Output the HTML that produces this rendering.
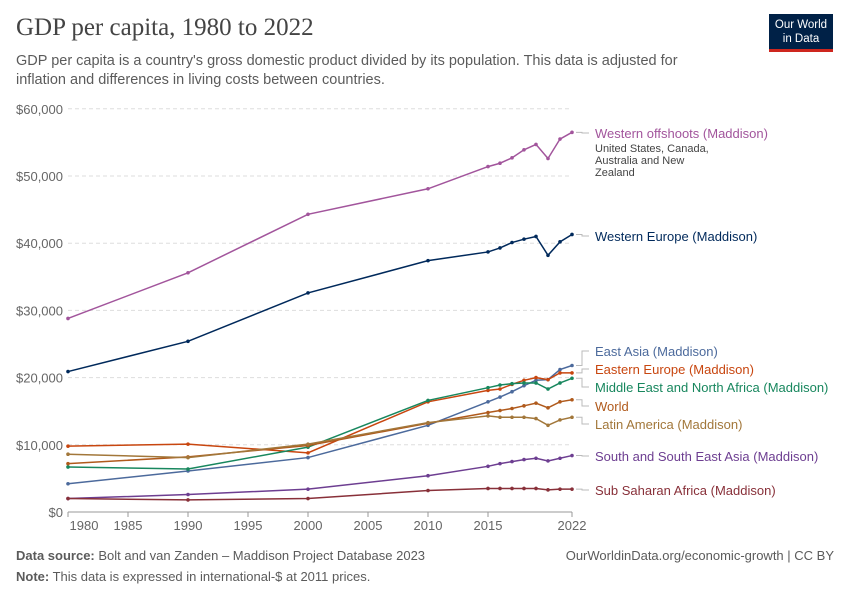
<!DOCTYPE html>
<html><head><meta charset="utf-8">
<style>
body{margin:0;background:#fff;font-family:"Liberation Sans",sans-serif;}
#wrap{position:relative;width:850px;height:600px;overflow:hidden;}
.t{position:absolute;white-space:nowrap;}
</style></head><body>
<div id="wrap">
<div class="t" style="left:16px;top:14px;font-family:'Liberation Serif',serif;font-size:25px;color:#444;">GDP per capita, 1980 to 2022</div>
<div class="t" style="left:16px;top:52px;font-size:14.5px;line-height:19px;color:#5b5b5b;white-space:normal;width:690px;">GDP per capita is a country's gross domestic product divided by its population. This data is adjusted for inflation and differences in living costs between countries.</div>
<div style="position:absolute;left:769px;top:14px;width:64px;height:38px;background:#002147;border-bottom:3px solid #ce261e;color:#fff;font-size:11.5px;line-height:14px;text-align:center;padding-top:4px;box-sizing:border-box;">Our World<br>in Data</div>
<svg id="chart" width="850" height="600" style="position:absolute;left:0;top:0"></svg>
<div class="t" style="left:16px;top:548px;font-size:13px;color:#5b5b5b;"><b>Data source:</b> Bolt and van Zanden – Maddison Project Database 2023</div>
<div class="t" style="left:16px;top:569px;font-size:13px;color:#5b5b5b;"><b>Note:</b> This data is expressed in international-$ at 2011 prices.</div>
<div class="t" style="right:16px;top:548px;font-size:13px;color:#5b5b5b;">OurWorldinData.org/economic-growth | CC BY</div>
</div>
<script>
const years=[1980,1990,2000,2010,2015,2016,2017,2018,2019,2020,2021,2022];
const westernOffshoots=[28800,35600,44300,48100,51400,51900,52700,53900,54700,52600,55500,56500];
const westernEurope=[20900,25400,32600,37400,38700,39300,40100,40600,41000,38200,40200,41300];
const eastAsia=[4200,6100,8100,12900,16400,17100,17900,18800,19600,19700,21200,21800];
const easternEurope=[9800,10100,8800,16400,18100,18300,19000,19600,20000,19700,20700,20700];
const mena=[6700,6400,9650,16600,18500,18900,19100,19200,19200,18300,19200,19900];
const world=[7200,8200,9900,13200,14800,15100,15400,15800,16200,15500,16400,16700];
const latinAmerica=[8600,8100,10100,13300,14300,14100,14100,14100,13900,12900,13700,14100];
const southAsia=[2000,2600,3400,5400,6800,7200,7500,7800,8000,7600,8000,8400];
const subSaharan=[2000,1800,2000,3200,3500,3500,3500,3500,3500,3300,3400,3400];
const yTicks=[0,10000,20000,30000,40000,50000,60000];
const yTickLabels=["$0","$10,000","$20,000","$30,000","$40,000","$50,000","$60,000"];
const xTicks=[1980,1985,1990,1995,2000,2005,2010,2015,2022];
const seriesNames=["Western offshoots (Maddison)","Western Europe (Maddison)","East Asia (Maddison)","Eastern Europe (Maddison)","Middle East and North Africa (Maddison)","World","Latin America (Maddison)","South and South East Asia (Maddison)","Sub Saharan Africa (Maddison)"];
const seriesData=[westernOffshoots,westernEurope,eastAsia,easternEurope,mena,world,latinAmerica,southAsia,subSaharan];
const colors=["#a2559c","#00295b","#4c6a9c","#c8460f","#18875e","#b05a1c","#a2773a","#6d3e91","#883039"];
const labelY=[133,236,351,369,387,406,424,456,490];
const ns="http://www.w3.org/2000/svg";
const svg=document.getElementById('chart');
const x=y=>68+(y-1980)*12;
const yv=v=>512-v*6.72/1000;
function mk(tag,attrs){const e=document.createElementNS(ns,tag);for(const k in attrs)e.setAttribute(k,attrs[k]);svg.appendChild(e);return e;}
yTicks.forEach((t,i)=>{
  if(t>0){const g=mk('line',{x1:68,x2:572,y1:yv(t),y2:yv(t),stroke:'#ddd','stroke-dasharray':'4,3'});
  
  }
  const tx=mk('text',{x:63,y:yv(t)+5,'text-anchor':'end','font-size':13,fill:'#666','font-family':'Liberation Sans,sans-serif'});
  tx.textContent=yTickLabels[i];
  
  
});
const ax=mk('line',{x1:68,x2:572,y1:512,y2:512,stroke:'#999'});


xTicks.forEach(t=>{
  mk('line',{x1:x(t),x2:x(t),y1:512,y2:517,stroke:'#999'});
  const tx=mk('text',{x:t===1980?x(t)+16:x(t),y:530,'text-anchor':'middle','font-size':13,fill:'#666','font-family':'Liberation Sans,sans-serif'});
  tx.textContent=t;
  
  
});
seriesData.forEach((d,si)=>{
  const pts=d.map((v,i)=>x(years[i])+','+yv(v)).join(' ');
  const pl=mk('polyline',{points:pts,fill:'none',stroke:colors[si],'stroke-width':1.5});
  
  
  d.forEach((v,i)=>{const c=mk('circle',{cx:x(years[i]),cy:yv(v),r:1.8,fill:colors[si]});
    
    });
  const ly=labelY[si], ey=yv(d[d.length-1]);
  const cn=mk('polyline',{points:`576,${ey} 582,${ey} 582,${ly} 589,${ly}`,fill:'none',stroke:'#bbb'});
  
  
  const tx=mk('text',{x:595,y:ly+5,'font-size':13,fill:colors[si],'font-family':'Liberation Sans,sans-serif'});
  tx.textContent=seriesNames[si];
  
  
});
["United States, Canada,","Australia and New","Zealand"].forEach((s,i)=>{
  const tx=mk('text',{x:595,y:152+i*12,'font-size':11,fill:'#444','font-family':'Liberation Sans,sans-serif'});
  tx.textContent=s;
  
  
});
</script>
</body></html>
